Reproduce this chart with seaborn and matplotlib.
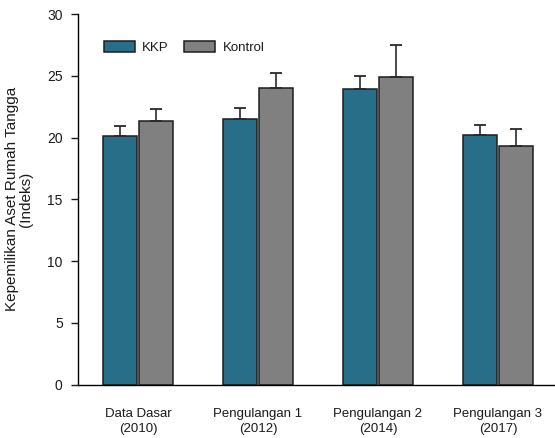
import matplotlib
matplotlib.use("Agg")
import matplotlib.pyplot as plt
import seaborn as sns
import pandas as pd
import numpy as np

categories = ["Data Dasar\n(2010)", "Pengulangan 1\n(2012)", "Pengulangan 2\n(2014)", "Pengulangan 3\n(2017)"]
series_names = ["KKP", "Kontrol"]
kkp_values = [20.1, 21.5, 23.95, 20.2]
kontrol_values = [21.3, 24.0, 24.9, 19.3]
kkp_err = [0.8, 0.9, 1.0, 0.8]
kontrol_err = [1.0, 1.2, 2.6, 1.35]
y_ticks = [0, 5, 10, 15, 20, 25, 30]

df = pd.DataFrame({
    "cat": categories * 2,
    "group": [series_names[0]] * 4 + [series_names[1]] * 4,
    "value": kkp_values + kontrol_values,
})
errs = {series_names[0]: kkp_err, series_names[1]: kontrol_err}

sns.set_style("white")
plt.rcParams["font.family"] = ["Liberation Sans", "DejaVu Sans"]
plt.rcParams["text.color"] = "#1a1a1a"
plt.rcParams["xtick.color"] = "#1a1a1a"
plt.rcParams["ytick.color"] = "#1a1a1a"
plt.rcParams["axes.labelcolor"] = "#1a1a1a"

fig = plt.figure(figsize=(5.55, 4.38), dpi=100)
ax = fig.add_axes([0.1405, 0.1221, 0.8595, 0.8459])

palette = {"KKP": "#286e88", "Kontrol": "#808080"}
sns.barplot(data=df, x="cat", y="value", hue="group", palette=palette,
            width=0.61, gap=0.07, edgecolor="#1e1e1e", linewidth=1.1,
            saturation=1, ax=ax, errorbar=None)

for cont, name in zip(ax.containers, series_names):
    xs = [b.get_x() + b.get_width() / 2 for b in cont]
    hs = [b.get_height() for b in cont]
    e = errs[name]
    ax.errorbar(xs, hs, yerr=[np.zeros(len(e)), e], fmt="none",
                ecolor="#2a2a2a", elinewidth=1.2, capsize=4, capthick=1.3, zorder=1)

ax.set_ylim(0, 30)
ax.set_xlim(-0.5, 3.475)
ax.set_yticks(y_ticks)
ax.set_yticklabels([str(t) for t in y_ticks], fontsize=10)
for lbl in ax.get_xticklabels():
    lbl.set_fontsize(9.5)
    lbl.set_linespacing(1.3)
ax.tick_params(axis="x", length=0, pad=17)
ax.tick_params(axis="y", length=5, width=1, direction="out", left=True, pad=6)
ax.set_xlabel("")
ax.set_ylabel("Kepemilikan Aset Rumah Tangga\n(Indeks)", fontsize=11,
              labelpad=10, linespacing=1.05)
for s in ["top", "right"]:
    ax.spines[s].set_visible(False)
for s in ["left", "bottom"]:
    ax.spines[s].set_color("black")
    ax.spines[s].set_linewidth(1.0)

handles, labels = ax.get_legend_handles_labels()
ax.legend(handles, labels, loc="upper left", bbox_to_anchor=(0.029, 0.958), ncol=2,
          frameon=False, fontsize=9.5, handlelength=2.35, handleheight=0.85,
          columnspacing=1.2, handletextpad=0.55)

fig.savefig("out.png", dpi=100)
